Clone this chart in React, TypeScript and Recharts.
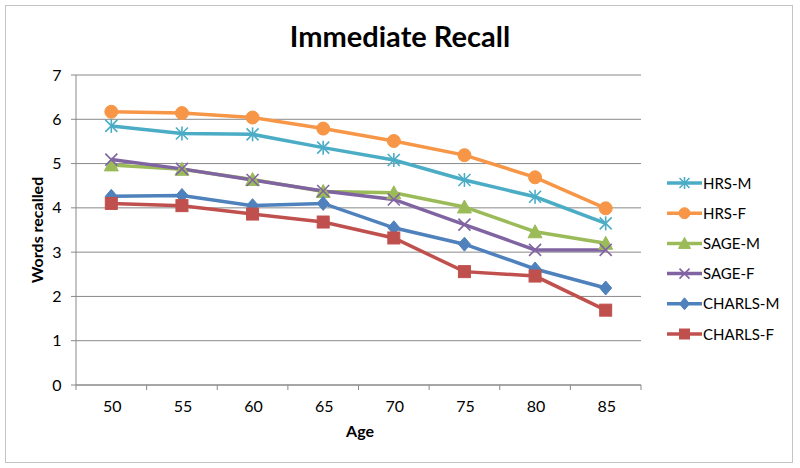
import React from 'react';
import { LineChart, Line, XAxis, YAxis, CartesianGrid } from 'recharts';

const ages = ['50', '55', '60', '65', '70', '75', '80', '85'];
const hrsM = [5.85, 5.68, 5.66, 5.36, 5.08, 4.63, 4.25, 3.65];
const hrsF = [6.17, 6.14, 6.04, 5.79, 5.51, 5.19, 4.69, 3.99];
const sageM = [4.97, 4.87, 4.64, 4.37, 4.34, 4.02, 3.46, 3.2];
const sageF = [5.09, 4.88, 4.63, 4.38, 4.19, 3.62, 3.05, 3.05];
const charlsM = [4.26, 4.28, 4.05, 4.1, 3.55, 3.18, 2.62, 2.19];
const charlsF = [4.1, 4.05, 3.86, 3.68, 3.32, 2.56, 2.46, 1.69];
const yTicks = [0, 1, 2, 3, 4, 5, 6, 7];

const data = ages.map((age, i) => ({
  age,
  'HRS-M': hrsM[i],
  'HRS-F': hrsF[i],
  'SAGE-M': sageM[i],
  'SAGE-F': sageF[i],
  'CHARLS-M': charlsM[i],
  'CHARLS-F': charlsF[i],
}));

type Shape = 'star' | 'circle' | 'triangle' | 'x' | 'diamond' | 'square';

const series: { key: string; color: string; shape: Shape }[] = [
  { key: 'HRS-M', color: '#4BACC6', shape: 'star' },
  { key: 'HRS-F', color: '#F79646', shape: 'circle' },
  { key: 'SAGE-M', color: '#9BBB59', shape: 'triangle' },
  { key: 'SAGE-F', color: '#8064A2', shape: 'x' },
  { key: 'CHARLS-M', color: '#4F81BD', shape: 'diamond' },
  { key: 'CHARLS-F', color: '#C0504D', shape: 'square' },
];

const FONT = 'Lato, "Open Sans", sans-serif';
const PLOT_LEFT = 76;
const PLOT_RIGHT = 641;
const PLOT_TOP = 75;
const PLOT_BOTTOM = 385;
const HALF_BAND = (PLOT_RIGHT - PLOT_LEFT) / 16;
const GRID = '#898989';

function marker(shape: Shape, color: string, cx: number, cy: number, s: number, key?: any) {
  const h = s / 2;
  switch (shape) {
    case 'circle':
      return <circle key={key} cx={cx} cy={cy} r={h + 0.5} fill={color} stroke={color} />;
    case 'square':
      return <rect key={key} x={cx - h} y={cy - h} width={s} height={s} fill={color} stroke={color} />;
    case 'diamond':
      return (
        <polygon key={key} points={`${cx},${cy - h - 1} ${cx + h},${cy} ${cx},${cy + h + 1} ${cx - h},${cy}`} fill={color} stroke={color} />
      );
    case 'triangle':
      return (
        <polygon key={key} points={`${cx},${cy - h - 1} ${cx + h + 1},${cy + h} ${cx - h - 1},${cy + h}`} fill={color} stroke={color} />
      );
    case 'x':
      return (
        <g key={key} stroke={color} strokeWidth={1.6}>
          <line x1={cx - h} y1={cy - h} x2={cx + h} y2={cy + h} />
          <line x1={cx - h} y1={cy + h} x2={cx + h} y2={cy - h} />
        </g>
      );
    case 'star':
    default:
      return (
        <g key={key} stroke={color} strokeWidth={1.6}>
          <line x1={cx - h} y1={cy - h} x2={cx + h} y2={cy + h} />
          <line x1={cx - h} y1={cy + h} x2={cx + h} y2={cy - h} />
          <line x1={cx} y1={cy - h - 1} x2={cx} y2={cy + h + 1} />
        </g>
      );
  }
}

const XTick = (props: any) => {
  const { x, payload, index } = props;
  return (
    <g>
      <line x1={x - HALF_BAND} y1={PLOT_BOTTOM} x2={x - HALF_BAND} y2={PLOT_BOTTOM + 5} stroke={GRID} />
      {index === ages.length - 1 && (
        <line x1={x + HALF_BAND} y1={PLOT_BOTTOM} x2={x + HALF_BAND} y2={PLOT_BOTTOM + 5} stroke={GRID} />
      )}
      <text x={x + 1} y={PLOT_BOTTOM + 27} textAnchor="middle" fontSize={16} fill="#000" fontFamily={FONT}>
        {payload.value}
      </text>
    </g>
  );
};

const YTick = (props: any) => {
  const { y, payload } = props;
  return (
    <text x={57} y={y + 5.5} textAnchor="middle" fontSize={16} fill="#000" fontFamily={FONT}>
      {payload.value}
    </text>
  );
};

const LegendBox = () => (
  <svg width={135} height={200} style={{ position: 'absolute', left: 664, top: 168 }}>
    {series.map((s, i) => {
      const y = 15 + i * 30.2;
      return (
        <g key={s.key}>
          <line x1={3} y1={y} x2={38} y2={y} stroke={s.color} strokeWidth={3.5} />
          {marker(s.shape, s.color, 20.5, y, 10)}
          <text x={39} y={y + 5.5} fontSize={15} fill="#000" fontFamily={FONT}>
            {s.key}
          </text>
        </g>
      );
    })}
  </svg>
);

export default function App() {
  return (
    <div style={{ position: 'absolute', left: 0, top: 0, width: 800, height: 468, background: '#fff' }}>
      <div
        style={{
          position: 'absolute',
          left: 5,
          top: 5,
          width: 788,
          height: 458,
          border: '1.5px solid #c4c4c4',
          boxSizing: 'border-box',
        }}
      />
      <div
        style={{
          position: 'absolute',
          left: 0,
          top: 18,
          width: 800,
          textAlign: 'center',
          fontFamily: FONT,
          fontWeight: 'bold',
          fontSize: 29,
          lineHeight: '36px',
          color: '#000',
        }}
      >
        Immediate Recall
      </div>
      <LineChart
        width={800}
        height={468}
        data={data}
        margin={{ top: PLOT_TOP, right: 800 - PLOT_RIGHT, bottom: 0, left: 0 }}
        style={{ position: 'absolute', left: 0, top: 0 }}
      >
        <CartesianGrid vertical={false} stroke={GRID} strokeWidth={1} />
        <XAxis
          dataKey="age"
          height={468 - PLOT_BOTTOM}
          padding={{ left: HALF_BAND, right: HALF_BAND }}
          axisLine={{ stroke: GRID }}
          tickLine={false}
          tick={<XTick />}
          interval={0}
          label={{
            content: () => (
              <text x={360} y={437} textAnchor="middle" fontSize={16} fontWeight="bold" fill="#000" fontFamily={FONT}>
                Age
              </text>
            ),
          }}
        />
        <YAxis
          width={PLOT_LEFT}
          domain={[0, 7]}
          ticks={yTicks}
          interval={0}
          axisLine={{ stroke: GRID }}
          tickLine={{ stroke: GRID }}
          tickSize={5}
          tick={<YTick />}
          label={{
            content: () => (
              <text
                x={43}
                y={230}
                textAnchor="middle"
                fontSize={16}
                fontWeight="bold"
                fill="#000"
                fontFamily={FONT}
                transform="rotate(-90 43 230)"
              >
                Words recalled
              </text>
            ),
          }}
        />
        {series.map((s) => (
          <Line
            key={s.key}
            type="linear"
            dataKey={s.key}
            stroke={s.color}
            strokeWidth={3.5}
            isAnimationActive={false}
            dot={(p: any) => marker(s.shape, s.color, p.cx, p.cy, 12, `${s.key}-${p.index}`)}
            activeDot={false}
          />
        ))}
      </LineChart>
      <LegendBox />
    </div>
  );
}
